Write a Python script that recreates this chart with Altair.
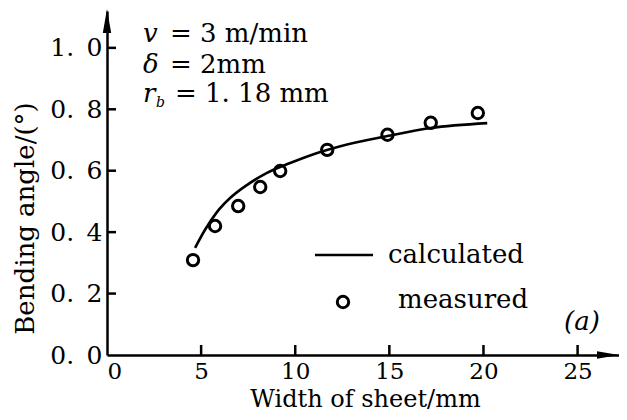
import altair as alt
import pandas as pd

# ---- data ----
measured_x = [4.57, 5.74, 6.97, 8.14, 9.2, 11.7, 14.9, 17.2, 19.7]
measured_y = [0.309, 0.420, 0.485, 0.547, 0.599, 0.668, 0.717, 0.756, 0.788]

calc_x = [4.68, 5.2, 5.85, 6.54, 7.45, 8.5, 9.73, 11.33, 12.4, 14.9, 17.2, 20.2]
calc_y = [0.349, 0.407, 0.466, 0.511, 0.554, 0.593, 0.625, 0.661, 0.68, 0.713, 0.739, 0.755]

x_ticks = [0, 5, 10, 15, 20, 25]
y_ticks = [0.0, 0.2, 0.4, 0.6, 0.8, 1.0]

x_title = "Width of sheet/mm"
y_title = "Bending angle/(°)"
legend_labels = ["calculated", "measured"]
param_symbols = ["v", "δ", "r"]
param_values = ["= 3 m/min", "= 2mm", "= 1. 18 mm"]
sub_b = "b"
panel_tag = "(a)"

W, H = 512, 344
XMAX, YMAX = 27.2, 1.12
FONT = "DejaVu Serif"

meas_df = pd.DataFrame({"x": measured_x, "y": measured_y})
calc_df = pd.DataFrame({"x": calc_x, "y": calc_y})

xscale = alt.Scale(domain=[0, XMAX], nice=False, zero=False)
yscale = alt.Scale(domain=[0, YMAX], nice=False, zero=False)

xaxis = alt.Axis(
    values=x_ticks, ticks=False, grid=False, domain=True,
    domainColor="black", domainWidth=2.5,
    labelFont=FONT, labelFontSize=23, labelColor="black", labelPadding=5,
    labelAlign=alt.ExprRef(expr="datum.value == 0 ? 'left' : 'center'"),
    title=x_title, titleFont=FONT, titleFontSize=24, titleFontWeight="normal",
    titleColor="black", titleX=258, titleY=51, titleAlign="center",
    titleBaseline="alphabetic", titleAnchor="start",
)
yaxis = alt.Axis(
    values=y_ticks, ticks=False, grid=False, domain=True,
    domainColor="black", domainWidth=2.5,
    labelFont=FONT, labelFontSize=25, labelColor="black", labelPadding=5,
    labelBaseline="middle",
    labelExpr="replace(format(datum.value, '.1f'), '.', '.\u2002')",
    title=y_title, titleFont=FONT, titleFontSize=26, titleFontWeight="normal",
    titleColor="black", titleAngle=270, titleX=-74, titleY=207,
    titleAlign="center", titleBaseline="alphabetic", titleAnchor="start",
)

line = alt.Chart(calc_df).mark_line(
    color="black", strokeWidth=2.6, interpolate="monotone"
).encode(
    x=alt.X("x:Q", scale=xscale, axis=xaxis),
    y=alt.Y("y:Q", scale=yscale, axis=yaxis),
)

points = alt.Chart(meas_df).mark_point(
    shape="circle", size=130, filled=False, color="black", strokeWidth=3, opacity=1
).encode(
    x=alt.X("x:Q", scale=xscale),
    y=alt.Y("y:Q", scale=yscale),
)

ytick_df = pd.DataFrame({"v": y_ticks[1:]})
xtick_df = pd.DataFrame({"v": x_ticks[1:]})
yticks = alt.Chart(ytick_df).mark_rule(color="black", strokeWidth=2.5).encode(
    y=alt.Y("v:Q", scale=yscale), x=alt.value(0), x2=alt.value(9)
)
xticks = alt.Chart(xtick_df).mark_rule(color="black", strokeWidth=2.5).encode(
    x=alt.X("v:Q", scale=xscale), y=alt.value(H), y2=alt.value(H - 10)
)

one = alt.Data(values=[{"a": 1}])
up_arrow = alt.Chart(one).mark_point(
    shape="M0,-1L0.35,1L-0.35,1Z", filled=True, color="black", size=576, opacity=1
).encode(x=alt.value(0), y=alt.value(10))
right_arrow = alt.Chart(one).mark_point(
    shape="M1,0L-1,-0.35L-1,0.35Z", filled=True, color="black", size=484, opacity=1
).encode(x=alt.value(W - 11), y=alt.value(H))


def label(text, x, y, size=26, style="normal", align="left", baseline="alphabetic"):
    return alt.Chart(one).mark_text(
        text=text, font=FONT, fontSize=size, fontStyle=style, color="black",
        align=align, baseline=baseline,
    ).encode(x=alt.value(x), y=alt.value(y))


texts = [
    label(param_symbols[0], 36, 31, style="italic"),
    label(param_symbols[1], 36, 62, style="italic"),
    label(param_symbols[2], 36, 91, style="italic"),
    label(sub_b, 49, 96, size=14, style="italic"),
    label(param_values[0], 63, 31),
    label(param_values[1], 63, 62),
    label(param_values[2], 68, 91),
    label(legend_labels[0], 281, 244, baseline="middle"),
    label(legend_labels[1], 291, 289, baseline="middle"),
    label(panel_tag, 475, 311, style="italic", align="center", baseline="middle"),
]

legend_line = alt.Chart(one).mark_rule(color="black", strokeWidth=2.6).encode(
    x=alt.value(208), x2=alt.value(266), y=alt.value(244)
)
legend_pt = alt.Chart(one).mark_point(
    shape="circle", size=130, filled=False, color="black", strokeWidth=3, opacity=1
).encode(x=alt.value(236), y=alt.value(291))

chart = alt.layer(
    line, points, yticks, xticks, up_arrow, right_arrow,
    legend_line, legend_pt, *texts
).properties(
    width=W, height=H,
    autosize=alt.AutoSizeParams(type="none"),
    padding={"left": 99, "top": 3, "right": 0, "bottom": 57},
    background="white",
).configure_view(stroke=None)

chart.save("out.html", embed_options={"renderer": "svg", "actions": False})
